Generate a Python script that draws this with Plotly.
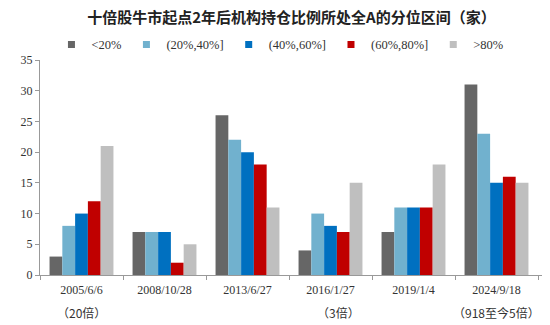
import plotly.graph_objects as go

dates = ["2005/6/6", "2008/10/28", "2013/6/27", "2016/1/27", "2019/1/4", "2024/9/18"]
notes = ["（20倍）", "", "", "（3倍）", "", "（918至今5倍）"]
series_names = ["<20%", "(20%,40%]", "(40%,60%]", "(60%,80%]", ">80%"]
lt20 = [3, 7, 26, 4, 7, 31]
p20_40 = [8, 7, 22, 10, 11, 23]
p40_60 = [10, 7, 20, 8, 11, 15]
p60_80 = [12, 2, 18, 7, 11, 16]
gt80 = [21, 5, 11, 15, 18, 15]
colors = ["#666666", "#71B1CE", "#0070C0", "#C00000", "#BFBFBF"]

serif = "Liberation Serif, Times New Roman, serif"
sans = "Noto Sans CJK SC, sans-serif"

fig = go.Figure()
for name, vals, c in zip(series_names, [lt20, p20_40, p40_60, p60_80, gt80], colors):
    fig.add_trace(go.Bar(x=dates, y=vals, name=name, showlegend=False,
                         marker=dict(color=c, line=dict(width=0))))
# small square legend keys
for name, c in zip(series_names, colors):
    fig.add_trace(go.Scatter(x=[None], y=[None], mode="markers", name=name,
                             marker=dict(symbol="square", size=7, color=c)))

# second line of the category labels
note_shift = {"2016/1/27": 8}
for d, n in zip(dates, notes):
    if n:
        fig.add_annotation(x=d, y=0, xref="x", yref="paper", text=n, showarrow=False,
                           yanchor="middle", yshift=-37, xshift=note_shift.get(d, 0),
                           font=dict(family=sans, size=12, color="#333333"))

fig.update_layout(
    width=550, height=325,
    margin=dict(l=40, r=8, t=60, b=50),
    paper_bgcolor="white", plot_bgcolor="white",
    barmode="group", bargap=0.23, bargroupgap=0,
    title=dict(text="<b>十倍股牛市起点2年后机构持仓比例所处全A的分位区间（家）</b>",
               x=0.53, xref="container", xanchor="center", y=0.962, yref="container",
               font=dict(family=sans, size=15, color="#222222")),
    legend=dict(orientation="h", x=0.478, xanchor="center", y=1.07, yanchor="middle",
                font=dict(family=serif, size=12.5, color="#333333"),
                itemwidth=30, traceorder="normal"),
    font=dict(family=serif, color="#333333"),
)
fig.update_xaxes(
    tickmode="array", tickvals=dates, ticktext=dates, tickangle=0,
    tickson="boundaries", ticks="outside", ticklen=4, tickcolor="#999999",
    showline=True, linecolor="#999999", linewidth=1, automargin=False,
    ticklabelstandoff=4,
    tickfont=dict(family=serif, size=12, color="#333333"),
    showgrid=False,
)
fig.update_yaxes(
    range=[0, 35], tickmode="linear", tick0=0, dtick=5,
    ticks="outside", ticklen=4, tickcolor="#999999",
    showline=True, linecolor="#999999", linewidth=1,
    tickfont=dict(family=serif, size=12, color="#333333"),
    showgrid=False, zeroline=False,
)
fig.write_html("out.html")
